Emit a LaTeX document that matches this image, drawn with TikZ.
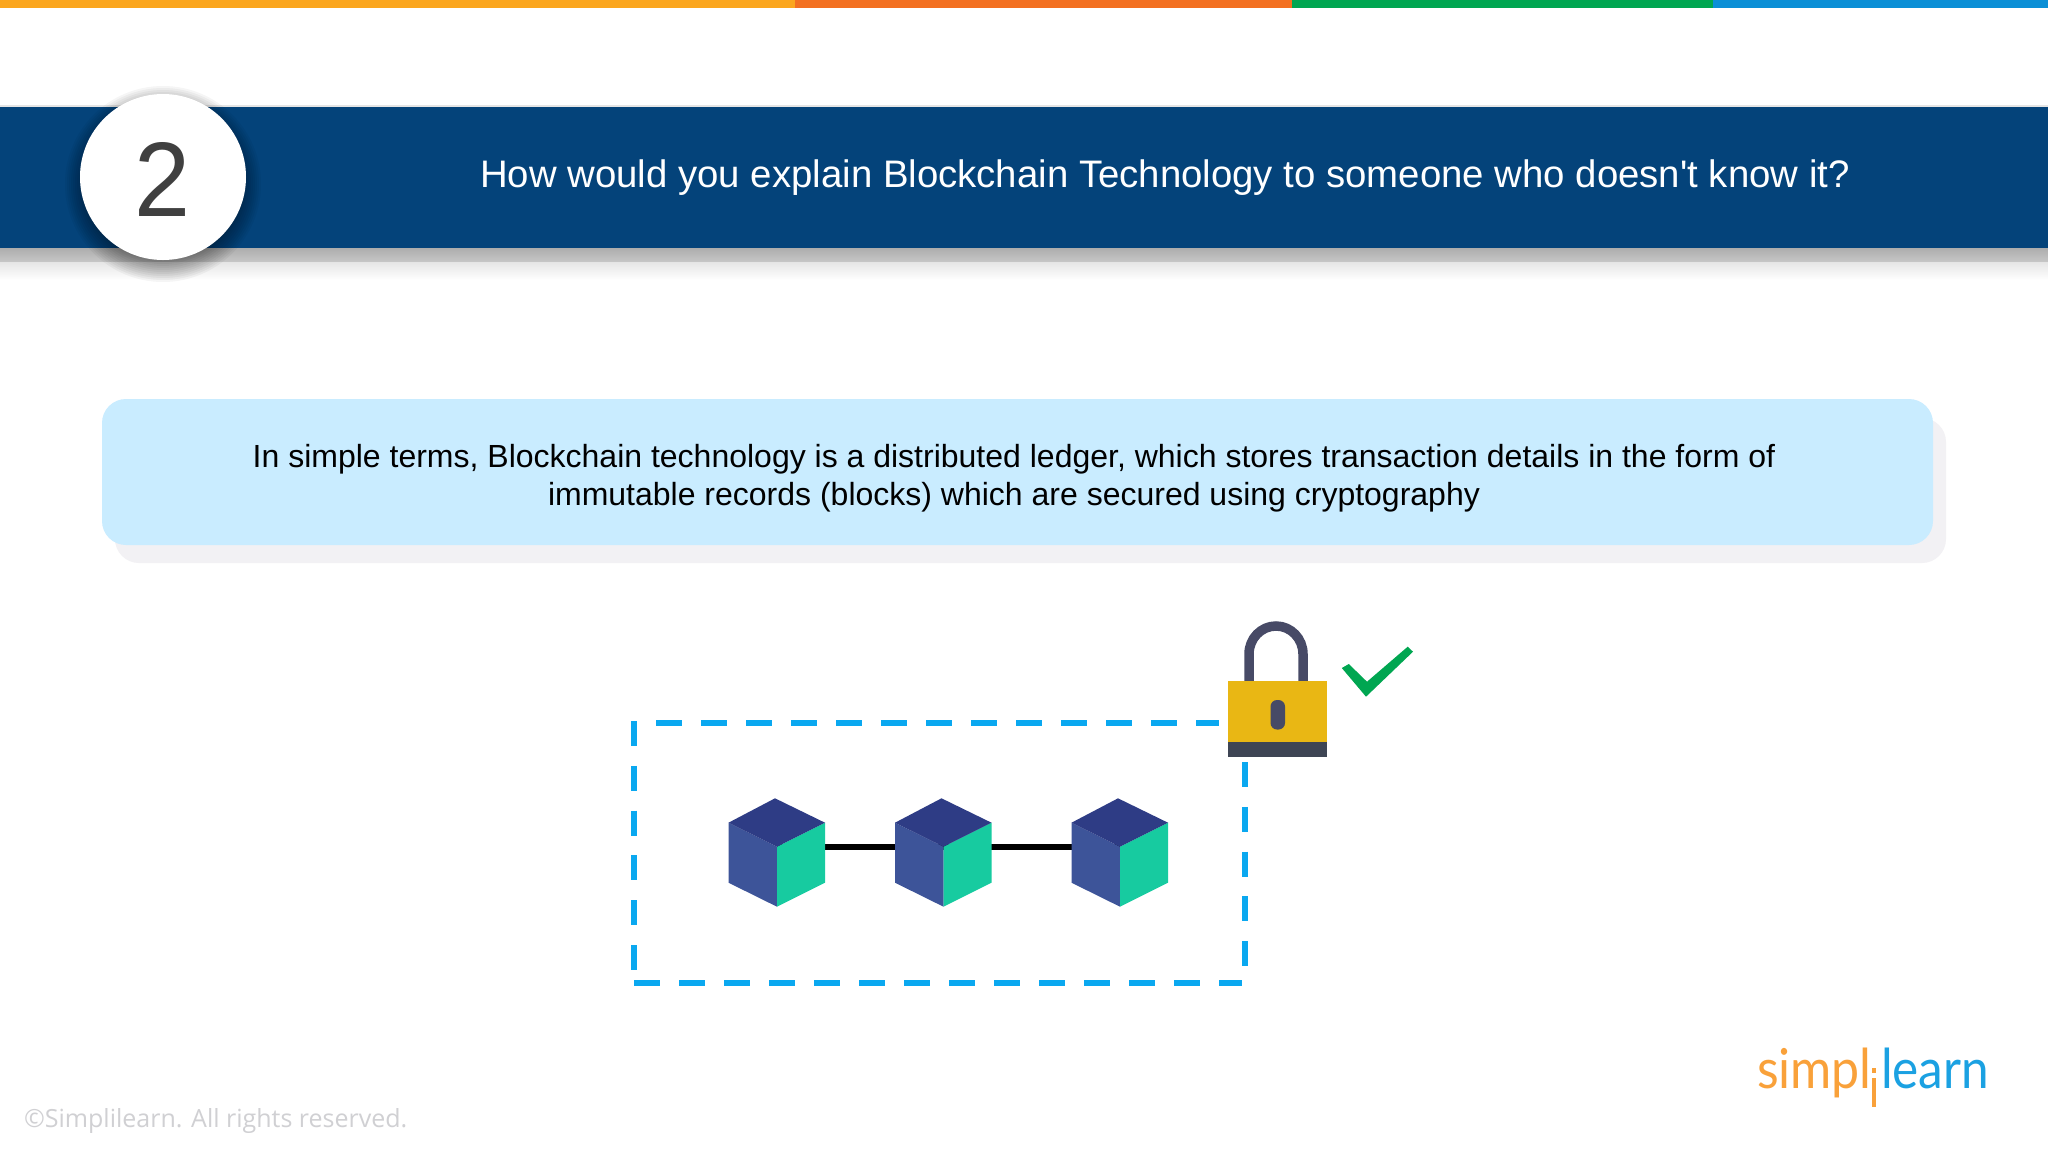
\documentclass[tikz,border=0pt]{standalone}
\usepackage{fontspec}
\setmainfont{Liberation Sans}
\newfontfamily\plainfont{Liberation Sans}
\newfontfamily\copyfont{Open Sans}
\newfontfamily\logofont{Lato}
\usetikzlibrary{shadings,calc}
\definecolor{barA}{HTML}{FBA61E}
\definecolor{barB}{HTML}{F37021}
\definecolor{barC}{HTML}{00A651}
\definecolor{barD}{HTML}{0B8FD6}
\definecolor{navy}{HTML}{04437A}
\definecolor{digit}{HTML}{404040}
\definecolor{panel}{HTML}{C9ECFF}
\definecolor{panelshadow}{HTML}{F2F1F4}
\definecolor{dash}{HTML}{0AA8F0}
\definecolor{cubetop}{HTML}{2E3C85}
\definecolor{cubeleft}{HTML}{3D5499}
\definecolor{cuberight}{HTML}{17CBA0}
\definecolor{lockbody}{HTML}{E9B714}
\definecolor{lockbase}{HTML}{3E4554}
\definecolor{lockdark}{HTML}{474A66}
\definecolor{logoorange}{HTML}{F9A13A}
\definecolor{logoblue}{HTML}{1BA1E2}
\definecolor{copygray}{HTML}{D0D0D3}
\tikzset{
  txt/.style={inner sep=0pt,outer sep=0pt,anchor=base},
  dashh/.style={draw=dash,line width=6pt,dash pattern=on 25.7pt off 19.3pt},
  dashv/.style={draw=dash,line width=6pt,dash pattern=on 25pt off 19.8pt},
  link/.style={draw=black,line width=6pt},
  cube/.pic={
    \fill[cubeleft] (-48.5,0) -- (0,24) -- (0,84) -- (-48.5,60) -- cycle;
    \fill[cuberight] (0,24) -- (48,0) -- (48,60) -- (0,84) -- cycle;
    \fill[cubetop] (-48.5,0) -- (-2,-24.4) -- (48,0) -- (0,24) -- cycle;
  }
}
\begin{document}
\begin{tikzpicture}[x=1pt,y=-1pt]
\useasboundingbox (0,0) rectangle (2048,1152);
\fill[white] (0,0) rectangle (2048,1152);
% top bar
\fill[barA] (0,0) rectangle (795,8);
\fill[barB] (795,0) rectangle (1292,8);
\fill[barC] (1292,0) rectangle (1713,8);
\fill[barD] (1713,0) rectangle (2048,8);
% header band and its shadows
\fill[black!10] (0,105) rectangle (2048,107);
\fill[top color=black!32,bottom color=black!22] (0,248) rectangle (2048,262);
\fill[top color=black!10,bottom color=white] (0,262) rectangle (2048,280);
\fill[navy] (0,107) rectangle (2048,248);
% circle shadow
\foreach \r in {76,78,80,82,84,86,88,90,92,94,96,98}
  \fill[black,opacity=0.04] (163,184) circle[radius=\r];
\node[circle,fill=white,minimum size=166pt,inner sep=0pt,outer sep=0pt] (num) at (163,177) {};
\node[txt,text=digit,font=\fontsize{106}{120}\selectfont] (numtxt) at (163,216) {\scalebox{0.95}[1]{2}};
\node[txt,text=white,font=\plainfont\fontsize{38.35}{46}\selectfont] (title) at (1165,187.5) {How would you explain Blockchain Technology to someone who doesn't know it?};
% panel
\fill[panelshadow,rounded corners=24pt] (115,418) rectangle (1946,563);
\fill[panel,rounded corners=24pt] (102,399) rectangle (1933,545);
\node[txt,text=black,font=\fontsize{32}{38}\selectfont] (lineA) at (1014,467) {In simple terms, Blockchain technology is a distributed ledger, which stores transaction details in the form of};
\node[txt,text=black,font=\fontsize{32}{38}\selectfont] (lineB) at (1014,505.5) {immutable records (blocks) which are secured using cryptography};
% dashed frame
\coordinate (tl) at (656,723);
\coordinate (tr) at (1219,723);
\coordinate (bl) at (634,983);
\coordinate (br) at (1242,983);
\coordinate (ls) at (634,721);
\coordinate (le) at (634,971);
\coordinate (rs) at (1244.5,762);
\coordinate (re) at (1244.5,968);
\draw[dashh] (tl) -- (tr);
\draw[dashh] (bl) -- (br);
\draw[dashv] (ls) -- (le);
\draw[dashv] (rs) -- (re);
% blocks
\coordinate (c1) at (777,847);
\coordinate (c2) at (943.5,847);
\coordinate (c3) at (1120,847);
\draw[link] (c1) -- (c2);
\draw[link] (c2) -- (c3);
\pic at (777,822.7) {cube};
\pic at (943.5,822.7) {cube};
\pic at (1120,822.7) {cube};
% lock
\draw[lockdark,line width=9.5pt] (1249,682) -- (1249,654) arc[start angle=180,end angle=0,x radius=27,y radius=-28] -- (1303,682);
\fill[lockbody] (1227.7,681) rectangle (1327.4,742);
\fill[lockbase] (1227.7,742) rectangle (1327.4,757);
\fill[lockdark,rounded corners=6.5pt] (1270.5,700) rectangle (1285,729.5);
% check
\fill[barC] (1341.8,668) -- (1348.8,664) -- (1367,681.7) -- (1407.7,646.7) -- (1413,651.7) -- (1366,696.7) -- cycle;
% logo
\node[txt,anchor=base west,text=logoorange,font=\logofont\fontsize{55}{60}\selectfont] (simpl) at (1757,1088) {\scalebox{0.91}[1]{simpl}};
\node[txt,anchor=base west,text=logoblue,font=\logofont\fontsize{55}{60}\selectfont] (learn) at (1881,1088) {\scalebox{0.9}[1]{learn}};
\fill[logoorange] (1871.5,1068) rectangle (1875.5,1073);
\fill[logoorange] (1871.5,1078) rectangle (1875.5,1107);
% copyright
\node[txt,anchor=base west,text=copygray,font=\copyfont\fontsize{25}{30}\selectfont] (copy) at (24,1127) {©Simplilearn. All rights reserved.};
\end{tikzpicture}
\end{document}
